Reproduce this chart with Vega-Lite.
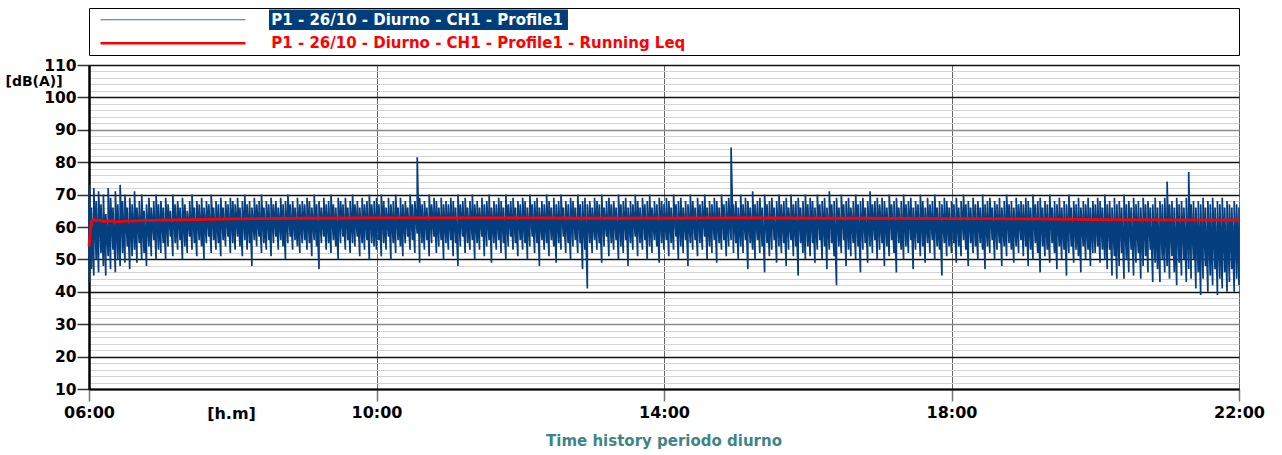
{
"$schema": "https://vega.github.io/schema/vega-lite/v6.json",
"padding": {"left": 4, "top": 7, "right": 5, "bottom": 5},
"background": "white",
"bounds": "flush",
"spacing": 10,
"config": {"view": {"stroke": null}, "font": "DejaVu Sans"},
"datasets": {
"legend": [{"s": "P1 - 26/10 - Diurno - CH1 - Profile1", "k": "raw"}, {"s": "P1 - 26/10 - Diurno - CH1 - Profile1 - Running Leq", "k": "leq"}],
"leq": [{"m":360,"leq":54},{"m":361,"leq":58},{"m":362,"leq":61.6},{"m":364,"leq":62.4},{"m":366,"leq":61.9},{"m":368,"leq":62.1},{"m":372,"leq":61.7},{"m":378,"leq":61.9},{"m":384,"leq":61.6},{"m":390,"leq":61.8},{"m":400,"leq":61.9},{"m":420,"leq":62.1},{"m":450,"leq":62.3},{"m":480,"leq":62.5},{"m":540,"leq":62.7},{"m":600,"leq":62.8},{"m":700,"leq":62.8},{"m":800,"leq":62.7},{"m":900,"leq":62.8},{"m":1000,"leq":62.7},{"m":1100,"leq":62.6},{"m":1150,"leq":62.5},{"m":1200,"leq":62.3},{"m":1250,"leq":62.2},{"m":1320,"leq":62.1}],
"raw": [
{"m":360,"lo":43,"hi":73},{"m":362,"lo":47,"hi":66},{"m":364,"lo":45,"hi":72},{"m":366,"lo":50,"hi":68},{"m":368,"lo":46,"hi":71},{"m":370,"lo":52,"hi":67},{"m":372,"lo":48,"hi":70},{"m":374,"lo":45,"hi":64},{"m":376,"lo":51,"hi":72},{"m":378,"lo":47,"hi":69},{"m":380,"lo":53,"hi":66},{"m":382,"lo":46,"hi":71},{"m":384,"lo":50,"hi":67},{"m":386,"lo":48,"hi":73},{"m":388,"lo":52,"hi":68},{"m":390,"lo":49,"hi":70},{"m":392,"lo":54,"hi":66},{"m":394,"lo":47,"hi":69},{"m":396,"lo":51,"hi":67},{"m":398,"lo":53,"hi":71},{"m":400,"lo":49,"hi":66},{"m":402,"lo":55,"hi":68},{"m":404,"lo":50,"hi":70},{"m":406,"lo":52,"hi":65},{"m":408,"lo":48,"hi":67},{"m":410,"lo":54,"hi":69},{"m":412,"lo":51,"hi":66},{"m":414,"lo":56,"hi":68},{"m":416,"lo":50,"hi":70},{"m":418,"lo":53,"hi":67},
{"m":420,"lo":52,"hi":68},{"m":422,"lo":55,"hi":66},{"m":424,"lo":50,"hi":69},{"m":426,"lo":54,"hi":67},{"m":428,"lo":57,"hi":65},{"m":430,"lo":51,"hi":70},{"m":432,"lo":55,"hi":67},{"m":434,"lo":53,"hi":68},{"m":436,"lo":56,"hi":66},{"m":438,"lo":50,"hi":69},{"m":440,"lo":54,"hi":67},{"m":442,"lo":52,"hi":65},{"m":444,"lo":57,"hi":68},{"m":446,"lo":53,"hi":70},{"m":448,"lo":55,"hi":66},{"m":450,"lo":51,"hi":68},{"m":452,"lo":56,"hi":67},{"m":454,"lo":54,"hi":69},{"m":456,"lo":50,"hi":66},{"m":458,"lo":55,"hi":68},{"m":460,"lo":57,"hi":67},{"m":462,"lo":52,"hi":70},{"m":464,"lo":56,"hi":66},{"m":466,"lo":53,"hi":68},{"m":468,"lo":55,"hi":67},{"m":470,"lo":51,"hi":69},{"m":472,"lo":56,"hi":66},{"m":474,"lo":54,"hi":68},{"m":476,"lo":57,"hi":67},{"m":478,"lo":52,"hi":69},
{"m":480,"lo":55,"hi":68},{"m":482,"lo":53,"hi":67},{"m":484,"lo":57,"hi":69},{"m":486,"lo":54,"hi":66},{"m":488,"lo":51,"hi":68},{"m":490,"lo":56,"hi":70},{"m":492,"lo":53,"hi":67},{"m":494,"lo":55,"hi":68},{"m":496,"lo":48,"hi":66},{"m":498,"lo":56,"hi":69},{"m":500,"lo":54,"hi":67},{"m":502,"lo":57,"hi":68},{"m":504,"lo":52,"hi":70},{"m":506,"lo":55,"hi":66},{"m":508,"lo":53,"hi":68},{"m":510,"lo":56,"hi":67},{"m":512,"lo":51,"hi":69},{"m":514,"lo":55,"hi":67},{"m":516,"lo":57,"hi":68},{"m":518,"lo":53,"hi":66},{"m":520,"lo":56,"hi":69},{"m":522,"lo":54,"hi":67},{"m":524,"lo":50,"hi":68},{"m":526,"lo":55,"hi":70},{"m":528,"lo":57,"hi":67},{"m":530,"lo":53,"hi":68},{"m":532,"lo":56,"hi":66},{"m":534,"lo":54,"hi":69},{"m":536,"lo":52,"hi":67},{"m":538,"lo":55,"hi":68},
{"m":540,"lo":56,"hi":67},{"m":542,"lo":53,"hi":69},{"m":544,"lo":55,"hi":68},{"m":546,"lo":51,"hi":66},{"m":548,"lo":56,"hi":70},{"m":550,"lo":54,"hi":67},{"m":552,"lo":47,"hi":68},{"m":554,"lo":55,"hi":66},{"m":556,"lo":57,"hi":69},{"m":558,"lo":53,"hi":67},{"m":560,"lo":55,"hi":68},{"m":562,"lo":52,"hi":70},{"m":564,"lo":56,"hi":67},{"m":566,"lo":54,"hi":66},{"m":568,"lo":50,"hi":69},{"m":570,"lo":55,"hi":68},{"m":572,"lo":57,"hi":67},{"m":574,"lo":53,"hi":69},{"m":576,"lo":56,"hi":66},{"m":578,"lo":52,"hi":68},{"m":580,"lo":55,"hi":70},{"m":582,"lo":54,"hi":67},{"m":584,"lo":57,"hi":68},{"m":586,"lo":51,"hi":66},{"m":588,"lo":55,"hi":69},{"m":590,"lo":53,"hi":67},{"m":592,"lo":56,"hi":68},{"m":594,"lo":50,"hi":70},{"m":596,"lo":55,"hi":67},{"m":598,"lo":54,"hi":68},
{"m":600,"lo":53,"hi":69},{"m":602,"lo":56,"hi":67},{"m":604,"lo":51,"hi":70},{"m":606,"lo":55,"hi":68},{"m":608,"lo":53,"hi":66},{"m":610,"lo":57,"hi":69},{"m":612,"lo":50,"hi":67},{"m":614,"lo":55,"hi":68},{"m":616,"lo":52,"hi":70},{"m":618,"lo":56,"hi":66},{"m":620,"lo":54,"hi":69},{"m":622,"lo":51,"hi":67},{"m":624,"lo":55,"hi":68},{"m":626,"lo":57,"hi":66},{"m":628,"lo":53,"hi":70},{"m":630,"lo":56,"hi":67},{"m":632,"lo":52,"hi":68},{"m":634,"lo":58,"hi":81.5},{"m":636,"lo":49,"hi":69},{"m":638,"lo":55,"hi":67},{"m":640,"lo":53,"hi":68},{"m":642,"lo":56,"hi":66},{"m":644,"lo":51,"hi":70},{"m":646,"lo":55,"hi":67},{"m":648,"lo":57,"hi":69},{"m":650,"lo":52,"hi":68},{"m":652,"lo":54,"hi":66},{"m":654,"lo":56,"hi":69},{"m":656,"lo":50,"hi":67},{"m":658,"lo":55,"hi":68},
{"m":660,"lo":53,"hi":67},{"m":662,"lo":56,"hi":69},{"m":664,"lo":51,"hi":68},{"m":666,"lo":55,"hi":66},{"m":668,"lo":48,"hi":70},{"m":670,"lo":54,"hi":67},{"m":672,"lo":57,"hi":68},{"m":674,"lo":52,"hi":69},{"m":676,"lo":55,"hi":66},{"m":678,"lo":53,"hi":68},{"m":680,"lo":56,"hi":70},{"m":682,"lo":50,"hi":67},{"m":684,"lo":55,"hi":68},{"m":686,"lo":53,"hi":66},{"m":688,"lo":57,"hi":69},{"m":690,"lo":51,"hi":67},{"m":692,"lo":54,"hi":68},{"m":694,"lo":56,"hi":70},{"m":696,"lo":49,"hi":66},{"m":698,"lo":55,"hi":68},{"m":700,"lo":53,"hi":67},{"m":702,"lo":56,"hi":69},{"m":704,"lo":52,"hi":68},{"m":706,"lo":55,"hi":66},{"m":708,"lo":50,"hi":70},{"m":710,"lo":54,"hi":67},{"m":712,"lo":57,"hi":68},{"m":714,"lo":53,"hi":69},{"m":716,"lo":55,"hi":66},{"m":718,"lo":51,"hi":68},
{"m":720,"lo":56,"hi":67},{"m":722,"lo":53,"hi":69},{"m":724,"lo":55,"hi":68},{"m":726,"lo":50,"hi":66},{"m":728,"lo":54,"hi":70},{"m":730,"lo":57,"hi":67},{"m":732,"lo":52,"hi":68},{"m":734,"lo":55,"hi":69},{"m":736,"lo":48,"hi":66},{"m":738,"lo":56,"hi":68},{"m":740,"lo":53,"hi":67},{"m":742,"lo":55,"hi":70},{"m":744,"lo":51,"hi":68},{"m":746,"lo":56,"hi":66},{"m":748,"lo":54,"hi":69},{"m":750,"lo":49,"hi":67},{"m":752,"lo":55,"hi":68},{"m":754,"lo":53,"hi":70},{"m":756,"lo":57,"hi":66},{"m":758,"lo":52,"hi":68},{"m":760,"lo":55,"hi":67},{"m":762,"lo":50,"hi":69},{"m":764,"lo":54,"hi":68},{"m":766,"lo":56,"hi":66},{"m":768,"lo":52,"hi":70},{"m":770,"lo":55,"hi":67},{"m":772,"lo":47,"hi":68},{"m":774,"lo":53,"hi":69},{"m":776,"lo":41,"hi":67},{"m":778,"lo":55,"hi":68},
{"m":780,"lo":52,"hi":66},{"m":782,"lo":56,"hi":69},{"m":784,"lo":53,"hi":68},{"m":786,"lo":55,"hi":67},{"m":788,"lo":49,"hi":70},{"m":790,"lo":54,"hi":66},{"m":792,"lo":57,"hi":68},{"m":794,"lo":51,"hi":69},{"m":796,"lo":55,"hi":67},{"m":798,"lo":53,"hi":68},{"m":800,"lo":56,"hi":66},{"m":802,"lo":50,"hi":70},{"m":804,"lo":54,"hi":67},{"m":806,"lo":52,"hi":68},{"m":808,"lo":56,"hi":69},{"m":810,"lo":48,"hi":66},{"m":812,"lo":55,"hi":68},{"m":814,"lo":53,"hi":67},{"m":816,"lo":57,"hi":70},{"m":818,"lo":51,"hi":68},{"m":820,"lo":55,"hi":66},{"m":822,"lo":53,"hi":69},{"m":824,"lo":56,"hi":67},{"m":826,"lo":50,"hi":68},{"m":828,"lo":54,"hi":70},{"m":830,"lo":52,"hi":66},{"m":832,"lo":56,"hi":68},{"m":834,"lo":54,"hi":67},{"m":836,"lo":49,"hi":69},{"m":838,"lo":55,"hi":68},
{"m":840,"lo":53,"hi":67},{"m":842,"lo":56,"hi":69},{"m":844,"lo":51,"hi":68},{"m":846,"lo":55,"hi":66},{"m":848,"lo":53,"hi":70},{"m":850,"lo":57,"hi":67},{"m":852,"lo":50,"hi":68},{"m":854,"lo":54,"hi":69},{"m":856,"lo":52,"hi":66},{"m":858,"lo":56,"hi":68},{"m":860,"lo":48,"hi":67},{"m":862,"lo":55,"hi":70},{"m":864,"lo":53,"hi":68},{"m":866,"lo":56,"hi":66},{"m":868,"lo":51,"hi":69},{"m":870,"lo":55,"hi":67},{"m":872,"lo":53,"hi":68},{"m":874,"lo":57,"hi":70},{"m":876,"lo":50,"hi":66},{"m":878,"lo":54,"hi":68},{"m":880,"lo":52,"hi":67},{"m":882,"lo":56,"hi":69},{"m":884,"lo":49,"hi":68},{"m":886,"lo":55,"hi":66},{"m":888,"lo":53,"hi":70},{"m":890,"lo":56,"hi":67},{"m":892,"lo":51,"hi":68},{"m":894,"lo":54,"hi":69},{"m":896,"lo":56,"hi":84.5},{"m":898,"lo":52,"hi":67},
{"m":900,"lo":55,"hi":68},{"m":902,"lo":50,"hi":66},{"m":904,"lo":54,"hi":70},{"m":906,"lo":52,"hi":67},{"m":908,"lo":56,"hi":69},{"m":910,"lo":47,"hi":68},{"m":912,"lo":55,"hi":66},{"m":914,"lo":53,"hi":71},{"m":916,"lo":50,"hi":67},{"m":918,"lo":56,"hi":68},{"m":920,"lo":52,"hi":69},{"m":922,"lo":54,"hi":66},{"m":924,"lo":46,"hi":70},{"m":926,"lo":55,"hi":67},{"m":928,"lo":51,"hi":68},{"m":930,"lo":53,"hi":69},{"m":932,"lo":56,"hi":66},{"m":934,"lo":49,"hi":68},{"m":936,"lo":54,"hi":70},{"m":938,"lo":52,"hi":67},{"m":940,"lo":55,"hi":68},{"m":942,"lo":48,"hi":69},{"m":944,"lo":53,"hi":66},{"m":946,"lo":56,"hi":70},{"m":948,"lo":51,"hi":67},{"m":950,"lo":54,"hi":68},{"m":952,"lo":45,"hi":69},{"m":954,"lo":55,"hi":66},{"m":956,"lo":52,"hi":68},{"m":958,"lo":50,"hi":70},
{"m":960,"lo":54,"hi":67},{"m":962,"lo":51,"hi":69},{"m":964,"lo":55,"hi":68},{"m":966,"lo":49,"hi":66},{"m":968,"lo":53,"hi":70},{"m":970,"lo":56,"hi":67},{"m":972,"lo":50,"hi":68},{"m":974,"lo":54,"hi":69},{"m":976,"lo":47,"hi":66},{"m":978,"lo":53,"hi":71},{"m":980,"lo":55,"hi":67},{"m":982,"lo":51,"hi":68},{"m":984,"lo":42,"hi":69},{"m":986,"lo":54,"hi":66},{"m":988,"lo":52,"hi":70},{"m":990,"lo":56,"hi":67},{"m":992,"lo":48,"hi":68},{"m":994,"lo":53,"hi":69},{"m":996,"lo":51,"hi":66},{"m":998,"lo":55,"hi":68},{"m":1000,"lo":50,"hi":70},{"m":1002,"lo":54,"hi":67},{"m":1004,"lo":46,"hi":68},{"m":1006,"lo":53,"hi":69},{"m":1008,"lo":55,"hi":66},{"m":1010,"lo":49,"hi":68},{"m":1012,"lo":54,"hi":71},{"m":1014,"lo":52,"hi":67},{"m":1016,"lo":56,"hi":68},{"m":1018,"lo":50,"hi":69},
{"m":1020,"lo":53,"hi":67},{"m":1022,"lo":55,"hi":69},{"m":1024,"lo":48,"hi":68},{"m":1026,"lo":54,"hi":66},{"m":1028,"lo":51,"hi":70},{"m":1030,"lo":56,"hi":67},{"m":1032,"lo":52,"hi":68},{"m":1034,"lo":46,"hi":69},{"m":1036,"lo":55,"hi":66},{"m":1038,"lo":53,"hi":68},{"m":1040,"lo":50,"hi":70},{"m":1042,"lo":54,"hi":67},{"m":1044,"lo":52,"hi":68},{"m":1046,"lo":56,"hi":69},{"m":1048,"lo":47,"hi":66},{"m":1050,"lo":53,"hi":68},{"m":1052,"lo":55,"hi":67},{"m":1054,"lo":51,"hi":70},{"m":1056,"lo":54,"hi":68},{"m":1058,"lo":49,"hi":66},{"m":1060,"lo":55,"hi":69},{"m":1062,"lo":52,"hi":67},{"m":1064,"lo":56,"hi":68},{"m":1066,"lo":50,"hi":70},{"m":1068,"lo":54,"hi":66},{"m":1070,"lo":53,"hi":68},{"m":1072,"lo":45,"hi":67},{"m":1074,"lo":55,"hi":69},{"m":1076,"lo":51,"hi":68},{"m":1078,"lo":54,"hi":66},
{"m":1080,"lo":52,"hi":68},{"m":1082,"lo":55,"hi":67},{"m":1084,"lo":49,"hi":69},{"m":1086,"lo":54,"hi":66},{"m":1088,"lo":51,"hi":68},{"m":1090,"lo":56,"hi":70},{"m":1092,"lo":53,"hi":67},{"m":1094,"lo":48,"hi":68},{"m":1096,"lo":55,"hi":66},{"m":1098,"lo":52,"hi":69},{"m":1100,"lo":54,"hi":67},{"m":1102,"lo":50,"hi":68},{"m":1104,"lo":55,"hi":66},{"m":1106,"lo":53,"hi":70},{"m":1108,"lo":47,"hi":67},{"m":1110,"lo":54,"hi":68},{"m":1112,"lo":52,"hi":69},{"m":1114,"lo":56,"hi":66},{"m":1116,"lo":50,"hi":68},{"m":1118,"lo":53,"hi":67},{"m":1120,"lo":55,"hi":69},{"m":1122,"lo":48,"hi":66},{"m":1124,"lo":54,"hi":68},{"m":1126,"lo":51,"hi":70},{"m":1128,"lo":55,"hi":67},{"m":1130,"lo":53,"hi":68},{"m":1132,"lo":49,"hi":66},{"m":1134,"lo":54,"hi":69},{"m":1136,"lo":52,"hi":67},{"m":1138,"lo":56,"hi":68},
{"m":1140,"lo":51,"hi":67},{"m":1142,"lo":54,"hi":69},{"m":1144,"lo":48,"hi":68},{"m":1146,"lo":53,"hi":66},{"m":1148,"lo":50,"hi":70},{"m":1150,"lo":55,"hi":67},{"m":1152,"lo":52,"hi":68},{"m":1154,"lo":46,"hi":69},{"m":1156,"lo":54,"hi":66},{"m":1158,"lo":51,"hi":68},{"m":1160,"lo":53,"hi":67},{"m":1162,"lo":49,"hi":70},{"m":1164,"lo":55,"hi":66},{"m":1166,"lo":52,"hi":68},{"m":1168,"lo":47,"hi":67},{"m":1170,"lo":54,"hi":69},{"m":1172,"lo":50,"hi":66},{"m":1174,"lo":53,"hi":68},{"m":1176,"lo":45,"hi":67},{"m":1178,"lo":52,"hi":70},{"m":1180,"lo":54,"hi":66},{"m":1182,"lo":49,"hi":68},{"m":1184,"lo":53,"hi":67},{"m":1186,"lo":51,"hi":69},{"m":1188,"lo":46,"hi":66},{"m":1190,"lo":54,"hi":68},{"m":1192,"lo":50,"hi":67},{"m":1194,"lo":53,"hi":69},{"m":1196,"lo":48,"hi":66},{"m":1198,"lo":52,"hi":68},
{"m":1200,"lo":52,"hi":67},{"m":1202,"lo":54,"hi":69},{"m":1204,"lo":49,"hi":68},{"m":1206,"lo":53,"hi":66},{"m":1208,"lo":50,"hi":70},{"m":1210,"lo":47,"hi":67},{"m":1212,"lo":53,"hi":68},{"m":1214,"lo":45,"hi":66},{"m":1216,"lo":51,"hi":69},{"m":1218,"lo":44,"hi":67},{"m":1220,"lo":48,"hi":68},{"m":1222,"lo":52,"hi":66},{"m":1224,"lo":44,"hi":70},{"m":1226,"lo":50,"hi":67},{"m":1228,"lo":46,"hi":68},{"m":1230,"lo":53,"hi":66},{"m":1232,"lo":45,"hi":69},{"m":1234,"lo":49,"hi":67},{"m":1236,"lo":52,"hi":68},{"m":1238,"lo":44,"hi":66},{"m":1240,"lo":48,"hi":69},{"m":1242,"lo":51,"hi":67},{"m":1244,"lo":46,"hi":68},{"m":1246,"lo":53,"hi":66},{"m":1248,"lo":43,"hi":67},{"m":1250,"lo":49,"hi":69},{"m":1252,"lo":47,"hi":66},{"m":1254,"lo":43,"hi":68},{"m":1256,"lo":50,"hi":67},{"m":1258,"lo":46,"hi":69},
{"m":1260,"lo":48,"hi":74},{"m":1262,"lo":44,"hi":67},{"m":1264,"lo":51,"hi":68},{"m":1266,"lo":46,"hi":66},{"m":1268,"lo":42,"hi":69},{"m":1270,"lo":49,"hi":67},{"m":1272,"lo":45,"hi":68},{"m":1274,"lo":50,"hi":66},{"m":1276,"lo":43,"hi":69},{"m":1278,"lo":47,"hi":77},{"m":1280,"lo":44,"hi":67},{"m":1282,"lo":50,"hi":68},{"m":1284,"lo":41,"hi":66},{"m":1286,"lo":46,"hi":68},{"m":1288,"lo":39,"hi":67},{"m":1290,"lo":44,"hi":69},{"m":1292,"lo":48,"hi":66},{"m":1294,"lo":40,"hi":68},{"m":1296,"lo":45,"hi":67},{"m":1298,"lo":42,"hi":69},{"m":1300,"lo":47,"hi":66},{"m":1302,"lo":39,"hi":68},{"m":1304,"lo":44,"hi":67},{"m":1306,"lo":41,"hi":69},{"m":1308,"lo":46,"hi":66},{"m":1310,"lo":40,"hi":68},{"m":1312,"lo":43,"hi":67},{"m":1314,"lo":47,"hi":66},{"m":1316,"lo":40,"hi":68},{"m":1318,"lo":44,"hi":67},{"m":1320,"lo":42,"hi":66}
]
},
"vconcat": [
{
"width": 1150, "height": 47,
"view": {"stroke": "#000", "strokeWidth": 1, "fill": "white"},
"data": {"name": "legend"},
"encoding": {"y": {"field": "s", "type": "nominal", "sort": null, "axis": null, "scale": {"paddingInner": 0, "paddingOuter": 0}}},
"layer": [
{"transform": [{"filter": "datum.k === 'raw'"}], "mark": {"type": "bar", "color": "#003d7a", "height": {"band": 0.88}},
 "encoding": {"x": {"datum": 15.65, "type": "quantitative", "scale": {"domain": [0, 100], "nice": false, "zero": false}, "axis": null}, "x2": {"datum": 41.65}}},
{"transform": [{"filter": "datum.k === 'raw'"}], "mark": {"type": "rule", "color": "#3a6aa3", "strokeWidth": 1},
 "encoding": {"x": {"datum": 1, "type": "quantitative", "axis": null}, "x2": {"datum": 13.6}}},
{"transform": [{"filter": "datum.k === 'leq'"}], "mark": {"type": "rule", "color": "#ff0000", "strokeWidth": 2.5},
 "encoding": {"x": {"datum": 1, "type": "quantitative", "axis": null}, "x2": {"datum": 13.6}}},
{"mark": {"type": "text", "align": "left", "baseline": "middle", "font": "DejaVu Sans", "fontWeight": "bold", "fontSize": 15},
 "encoding": {"x": {"datum": 15.85, "type": "quantitative", "axis": null}, "text": {"field": "s"},
  "color": {"field": "k", "type": "nominal", "scale": {"domain": ["raw", "leq"], "range": ["#ffffff", "#ff0000"]}, "legend": null}}}
]
},
{
"width": 1150, "height": 324,
"view": {"stroke": "#555", "strokeWidth": 1},
"title": {"text": "Time history periodo diurno", "orient": "bottom", "anchor": "middle", "frame": "group", "color": "#3f8585", "font": "DejaVu Sans", "fontSize": 15, "fontWeight": "bold", "offset": 13},
"layer": [
{"data": {"name": "raw"}, "transform": [{"fold": ["lo", "hi"], "as": ["kind", "db"]}],
 "mark": {"type": "line", "color": "#063f7f", "strokeWidth": 1.7},
 "encoding": {
  "x": {"field": "m", "type": "quantitative", "scale": {"domain": [360, 1320], "nice": false, "zero": false},
   "axis": {"values": [360, 600, 840, 1080, 1320], "tickCount": 20, "labelExpr": "(floor(datum.value/60) < 10 ? '0' : '') + floor(datum.value/60) + ':00'",
    "title": "[h.m]", "titleX": 142, "titleY": 24, "titleAlign": "center", "titleBaseline": "middle", "titleFont": "DejaVu Sans", "titleFontSize": 16, "titleFontWeight": "bold", "titleColor": "#000",
    "labelFont": "DejaVu Sans", "labelFontSize": 16, "labelFontWeight": "bold", "labelColor": "#000", "labelFlush": false, "labelOverlap": false, "labelPadding": 3,
    "tickSize": 12, "tickColor": "#777", "tickWidth": 1.5, "grid": true, "gridColor": "#666", "gridWidth": 1, "domainColor": "#000", "domainWidth": 2}},
  "y": {"field": "db", "type": "quantitative", "scale": {"domain": [10, 110], "nice": false, "zero": false},
   "axis": {"values": [10,12,14,16,18,20,22,24,26,28,30,32,34,36,38,40,42,44,46,48,50,52,54,56,58,60,62,64,66,68,70,72,74,76,78,80,82,84,86,88,90,92,94,96,98,100,102,104,106,108,110],
    "tickCount": 200, "labelExpr": "datum.value % 10 === 0 ? format(datum.value, 'd') : ''", "labelOverlap": false,
    "title": "[dB(A)]", "titleAngle": 0, "titleAlign": "left", "titleBaseline": "middle", "titleX": -84, "titleY": 16.4, "titleFont": "DejaVu Sans", "titleFontSize": 14, "titleFontWeight": "bold", "titleColor": "#000",
    "labelFont": "DejaVu Sans", "labelFontSize": 15.5, "labelFontWeight": "bold", "labelColor": "#000", "labelPadding": 1,
    "tickSize": 12, "tickColor": "#333", "tickWidth": 1.5, "tickOpacity": {"condition": {"test": "datum.value % 10 === 0", "value": 1}, "value": 0},
    "grid": true, "gridColor": {"condition": [{"test": "datum.value % 30 === 0", "value": "#8a8a8a"}, {"test": "datum.value % 10 === 0", "value": "#111111"}], "value": "#d4d4d4"},
    "gridWidth": {"condition": {"test": "datum.value % 10 === 0", "value": 1.5}, "value": 1.2},
    "domainColor": "#000", "domainWidth": 2.5}}
 }},
{"data": {"name": "leq"}, "mark": {"type": "line", "color": "#ff0000", "strokeWidth": 2.8},
 "encoding": {"x": {"field": "m", "type": "quantitative"}, "y": {"field": "leq", "type": "quantitative"}}}
]
}
]
}
